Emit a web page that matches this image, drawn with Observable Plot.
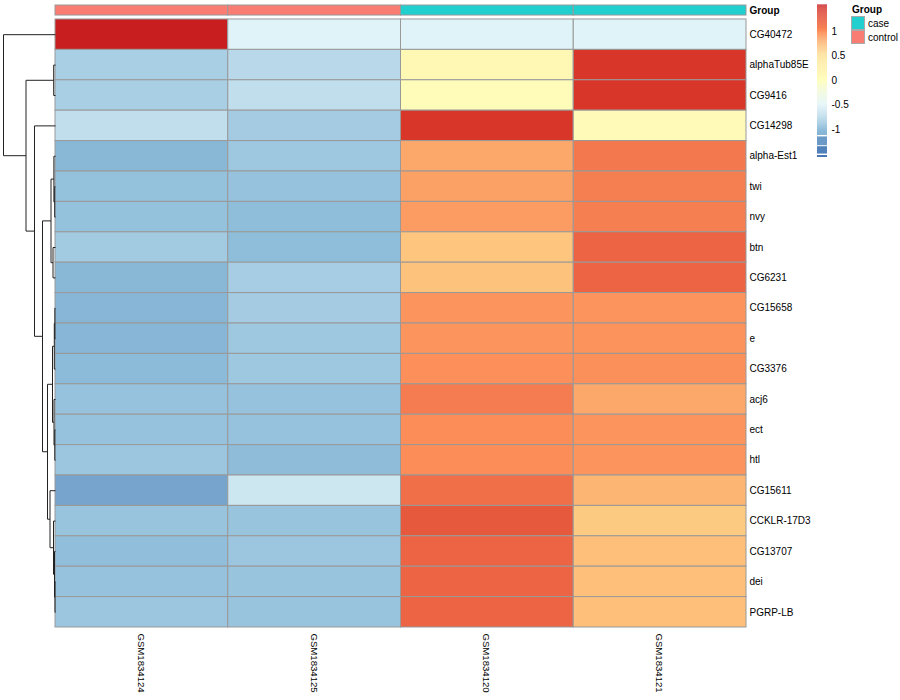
<!DOCTYPE html>
<html><head><meta charset="utf-8">
<script src="https://cdn.jsdelivr.net/npm/d3@7"></script>
<script src="https://cdn.jsdelivr.net/npm/@observablehq/plot@0.6"></script>
<style>
body{margin:0;background:#fff;font-family:"Liberation Sans",Arial,Helvetica,sans-serif;}
#wrap{position:relative;width:900px;height:700px;overflow:hidden;}
#main,#cbar,#glegend{position:absolute;top:0;left:0;}
#cbar{left:817px;}
#glegend{left:851px;top:4px;font-size:10px;color:#000;}
#glegend .title{font-weight:bold;height:12px;line-height:12px;margin-left:1px;}
#glegend .item{display:flex;align-items:center;height:14px;}
#glegend .sw{width:14px;height:14px;border:1px solid #aaa;box-sizing:border-box;margin-right:3px;}
</style></head><body>
<div id="wrap"><div id="main"></div><div id="cbar"></div><div id="glegend"></div></div>
<script>
// ---------- data ----------
const samples = ["GSM1834124","GSM1834125","GSM1834120","GSM1834121"];
const sampleGroups = ["control","control","case","case"];
const genes = ["CG40472","alphaTub85E","CG9416","CG14298","alpha-Est1","twi","nvy","btn","CG6231",
  "CG15658","e","CG3376","acj6","ect","htl","CG15611","CCKLR-17D3","CG13707","dei","PGRP-LB"];
// row-scaled (z-score) expression per sample, in gene order
const gsm124 = [1.53,-0.85,-0.85,-0.7,-1.05,-0.98,-0.98,-0.89,-1.05,-1.06,-1.06,-1.03,-0.97,-0.97,-0.93,-1.18,-0.95,-1.0,-0.97,-0.93];
const gsm125 = [-0.5,-0.75,-0.7,-0.88,-0.92,-0.97,-1.01,-1.01,-0.87,-0.88,-0.92,-0.92,-0.97,-0.97,-1.02,-0.62,-0.95,-0.93,-0.95,-0.95];
const gsm120 = [-0.5,0.12,0.05,1.42,0.84,0.88,0.91,0.66,0.68,0.96,0.96,0.99,1.08,1.0,1.0,1.15,1.25,1.2,1.2,1.2];
const gsm121 = [-0.5,1.42,1.42,0.08,1.1,1.07,1.07,1.2,1.2,0.96,0.97,0.98,0.84,0.96,0.96,0.76,0.63,0.7,0.7,0.7];
const sampleValues = [gsm124, gsm125, gsm120, gsm121];
// row dendrogram: [merge height, left, right]
const rowTree = [52, "CG40472",
  [29.5, [1.8, "alphaTub85E", "CG9416"],
    [21, "CG14298",
      [13,
        [4.5, [1.6, "alpha-Est1", [0.8, "twi", "nvy"]], [2.5, "btn", "CG6231"]],
        [8,
          [3, [1.2, [0.6, "CG15658", "e"], "CG3376"], [1.5, "acj6", [0.7, "ect", "htl"]]],
          [5.5, "CG15611", [2, "CCKLR-17D3", [1, "CG13707", [0.5, "dei", "PGRP-LB"]]]]]]]]];
const groupNames = ["case","control"];
const groupColors = ["#21CFCF","#F97D73"];
const legendTicks = [-1,-0.5,0,0.5,1];
const paletteStops = ["#4575B4","#91BFDB","#E0F3F8","#FFFFBF","#FEE090","#FC8D59","#D73027","#C41A1E"];
const paletteDomain = [-1.5,-1,-0.5,0,0.5,1,1.45,1.55];

// ---------- derived ----------
const font = "'Liberation Sans', Arial, Helvetica, sans-serif";
const colorOpts = {type:"linear", domain: paletteDomain, range: paletteStops, interpolate:"rgb", clamp:true};
const cells = [];
genes.forEach((g,i)=> samples.forEach((s,j)=> cells.push({gene:g,row:i,col:j,value:sampleValues[j][i]})));
const heatW = 691; // px width of heat map body
const hUnit = samples.length / heatW; // column units per dendrogram height unit
const segs = [];
function layoutTree(node){
  if (typeof node === "string") return {y: genes.indexOf(node)+0.5, h:0};
  const [h,a,b] = node; const A = layoutTree(a), B = layoutTree(b);
  segs.push({x1:-h,y1:A.y,x2:-h,y2:B.y});
  segs.push({x1:-h,y1:A.y,x2:-A.h,y2:A.y});
  segs.push({x1:-h,y1:B.y,x2:-B.h,y2:B.y});
  return {y:(A.y+B.y)/2, h};
}
layoutTree(rowTree);
const annotTop = -0.46, annotBottom = -0.13;
const colIdx = samples.map((s,j)=>j);
const groupColor = Object.fromEntries(groupNames.map((g,i)=>[g,groupColors[i]]));

const main = Plot.plot({
  width:900, height:700, marginLeft:55, marginRight:154, marginTop:5, marginBottom:73,
  x:{domain:[0,samples.length], axis:null},
  y:{domain:[annotTop, genes.length], reverse:true, axis:null},
  color: colorOpts,
  style:{fontFamily:font, fontSize:"10px", background:"white", overflow:"visible"},
  marks:[
    Plot.rect(cells, {x1:d=>d.col, x2:d=>d.col+1, y1:d=>d.row, y2:d=>d.row+1, fill:"value", stroke:"#999999", strokeWidth:1}),
    ...groupNames.map(g => Plot.rect(colIdx.filter(j=>sampleGroups[j]===g), {x1:j=>j, x2:j=>j+1, y1:annotTop, y2:annotBottom, fill:groupColor[g], stroke:"#999999", strokeWidth:1})),
    Plot.link(segs, {x1:d=>d.x1*hUnit, y1:"y1", x2:d=>d.x2*hUnit, y2:"y2", stroke:"#222", strokeWidth:1}),
    Plot.text(genes, {x:samples.length, y:(d,i)=>i+0.5, text:d=>d, textAnchor:"start", dx:3, fill:"black", fontSize:10}),
    Plot.text(["Group"], {x:samples.length, y:(annotTop+annotBottom)/2, text:d=>d, textAnchor:"start", dx:3, fill:"black", fontSize:10, fontWeight:"bold"}),
    Plot.text(samples, {x:(d,j)=>j+0.5, y:genes.length, text:d=>d, rotate:90, textAnchor:"start", dx:-1, dy:6, fill:"black", fontSize:9.6})
  ]
});
document.getElementById("main").appendChild(main);

// colour bar legend
const step = 0.02;
const ramp = d3.range(-1.12, 1.53, step).map(v=>({y1:v, y2:v+step+0.001, v:v+step/2}));
const blocks = [{y1:-1.33,y2:-1.15,v:-1.25},{y1:-1.50,y2:-1.35,v:-1.42},{y1:-1.57,y2:-1.53,v:-1.55}];
const cbar = Plot.plot({
  width:60, height:160, marginLeft:0, marginRight:50, marginTop:5, marginBottom:3,
  x:{domain:[0,1], axis:null},
  y:{domain:[-1.57,1.53], axis:"right", ticks:legendTicks, tickFormat:d=>String(d), tickSize:0, tickPadding:4, label:null},
  color: colorOpts,
  style:{fontFamily:font, fontSize:"10px", overflow:"visible", color:"black"},
  marks:[
    Plot.rect(ramp.concat(blocks), {x1:0, x2:1, y1:"y1", y2:"y2", fill:"v"})
  ]
});
document.getElementById("cbar").appendChild(cbar);

// group legend
const gl = document.getElementById("glegend");
const t = document.createElement("div"); t.className="title"; t.textContent="Group"; gl.appendChild(t);
groupNames.forEach((g,i)=>{
  const it = document.createElement("div"); it.className="item";
  const sw = document.createElement("div"); sw.className="sw"; sw.style.background=groupColors[i];
  const lb = document.createElement("span"); lb.textContent=g;
  it.appendChild(sw); it.appendChild(lb); gl.appendChild(it);
});
</script>
</body></html>
